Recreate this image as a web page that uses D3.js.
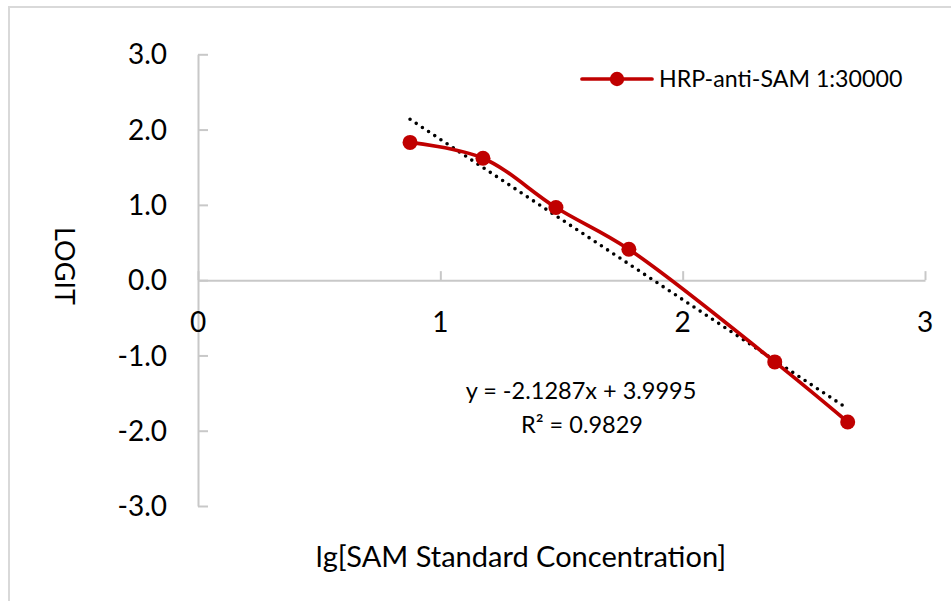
<!DOCTYPE html>
<html><head><meta charset="utf-8">
<script src="https://cdn.jsdelivr.net/npm/d3@7"></script>
<style>
html,body{margin:0;padding:0;background:#fff;}
svg{display:block;font-family:Lato,"Open Sans",sans-serif;}
</style></head>
<body>
<svg id="chart" width="951" height="601"></svg>
<script>
// ---- data ----
const xValues = [0.875, 1.176, 1.477, 1.778, 2.380, 2.681];
const yValues = [1.83, 1.62, 0.965, 0.41, -1.086, -1.884];
const seriesName = "HRP-anti-SAM 1:30000";
const xTicks = [0, 1, 2, 3];
const yTicks = [-3, -2, -1, 0, 1, 2, 3];
const yTickLabels = ["-3.0", "-2.0", "-1.0", "0.0", "1.0", "2.0", "3.0"];
const xTickLabels = ["0", "1", "2", "3"];
const trendSlope = -2.1287;
const trendIntercept = 3.9995;
const trendR2 = 0.9829;
const xTitle = "lg[SAM Standard Concentration]";
const yTitle = "LOGIT";

const svg = d3.select("#chart");
const W = 951, H = 601;
const red = "#c00000", axisCol = "#c8c8c8";

// border
svg.append("rect").attr("x", 9).attr("y", 7).attr("width", W).attr("height", H)
  .attr("fill", "#fff").attr("stroke", "#d9d9d9").attr("stroke-width", 2);

const x = d3.scaleLinear().domain([0, 3]).range([198, 925]);
const y = d3.scaleLinear().domain([-3, 3]).range([506, 54.3]);

// y axis
const yAxis = svg.append("g").attr("transform", `translate(${x(0)},0)`)
  .call(d3.axisRight(y).tickValues(yTicks).tickSize(10).tickSizeOuter(0).tickFormat(""));
yAxis.select(".domain").attr("stroke", axisCol).attr("stroke-width", 2);
yAxis.selectAll(".tick line").attr("stroke", axisCol).attr("stroke-width", 2);
svg.append("g").selectAll("text").data(yTicks).join("text")
  .attr("x", 167).attr("y", d => y(d)).attr("dy", "0.36em")
  .attr("text-anchor", "end").attr("font-size", 28).attr("fill", "#000")
  .text((d, i) => yTickLabels[i]);

// x axis
const xAxis = svg.append("g").attr("transform", `translate(0,${y(0)})`)
  .call(d3.axisTop(x).tickValues(xTicks).tickSize(9).tickSizeOuter(0).tickFormat(""));
xAxis.select(".domain").attr("stroke", axisCol).attr("stroke-width", 2);
xAxis.selectAll(".tick line").attr("stroke", axisCol).attr("stroke-width", 2);
svg.append("g").selectAll("text").data(xTicks).join("text")
  .attr("x", d => x(d)).attr("y", 332)
  .attr("text-anchor", "middle").attr("font-size", 28).attr("fill", "#000")
  .text((d, i) => xTickLabels[i]);

// titles
svg.append("text").attr("x", 521).attr("y", 567).attr("text-anchor", "middle")
  .attr("font-size", 29).attr("fill", "#000").text(xTitle);
svg.append("text").attr("transform", `translate(55,266) rotate(90)`)
  .attr("text-anchor", "middle").attr("font-size", 27).attr("fill", "#000").text(yTitle);

// trendline
const tx = [d3.min(xValues), d3.max(xValues)];
svg.append("line")
  .attr("x1", x(tx[0])).attr("y1", y(trendSlope * tx[0] + trendIntercept))
  .attr("x2", x(tx[1])).attr("y2", y(trendSlope * tx[1] + trendIntercept))
  .attr("stroke", "#000").attr("stroke-width", 3.6).attr("stroke-linecap", "round")
  .attr("stroke-dasharray", "0 7.4");

// series line
const pts = xValues.map((v, i) => [v, yValues[i]]);
const line = d3.line().x(d => x(d[0])).y(d => y(d[1])).curve(d3.curveCatmullRom.alpha(0.5));
svg.append("path").datum(pts).attr("d", line).attr("fill", "none")
  .attr("stroke", red).attr("stroke-width", 3.7).attr("stroke-linejoin", "round");
svg.append("g").selectAll("circle").data(pts).join("circle")
  .attr("cx", d => x(d[0])).attr("cy", d => y(d[1])).attr("r", 7.5).attr("fill", red);

// equation
svg.append("text").attr("x", 581).attr("y", 399).attr("text-anchor", "middle")
  .attr("font-size", 23.5).attr("fill", "#000")
  .text(`y = ${trendSlope}x + ${trendIntercept}`);
svg.append("text").attr("x", 582).attr("y", 433).attr("text-anchor", "middle")
  .attr("font-size", 23.5).attr("fill", "#000")
  .text(`R² = ${trendR2}`);

// legend
const lg = svg.append("g");
lg.append("line").attr("x1", 582).attr("x2", 652).attr("y1", 79).attr("y2", 79)
  .attr("stroke", red).attr("stroke-width", 3.7).attr("stroke-linecap", "round");
lg.append("circle").attr("cx", 617).attr("cy", 79).attr("r", 7.2).attr("fill", red);
lg.append("text").attr("x", 659).attr("y", 79).attr("dy", "0.36em")
  .attr("font-size", 23.2).attr("fill", "#000").text(seriesName);
</script>
</body></html>
